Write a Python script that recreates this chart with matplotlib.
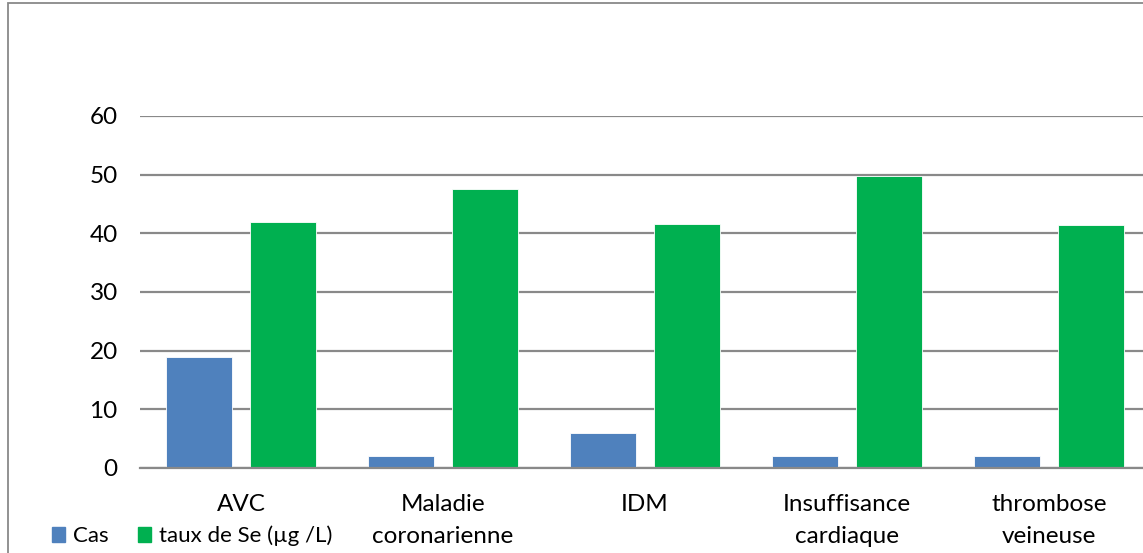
import numpy as np
import matplotlib.pyplot as plt
from matplotlib.patches import Rectangle, Patch

plt.rcParams['font.family'] = ['Lato', 'DejaVu Sans']

categories = ['AVC', 'Maladie\ncoronarienne', 'IDM', 'Insuffisance\ncardiaque',
              'thrombose\nveineuse']
cas = [19, 2, 6, 2, 2]
taux_se = [42, 47.6, 41.6, 49.8, 41.4]
yticks = [0, 10, 20, 30, 40, 50, 60]

blue = '#4F81BD'
green = '#00B050'
grid = '#898989'

W, H = 1143, 553
fig = plt.figure(figsize=(W / 100, H / 100), dpi=100)

# chart frame (runs off the right and bottom edges)
fig.patches.append(Rectangle((8 / W, -0.1), 1.2, 1 - 3 / H + 0.1,
                             transform=fig.transFigure, fill=False,
                             edgecolor=grid, linewidth=1.3))

ax = fig.add_axes([140 / W, 1 - 468 / H, 1010 / W, (468 - 116) / H])
x = np.arange(len(categories))
w = 0.33
off = 0.208
ax.bar(x - off, cas, w, color=blue, edgecolor='white', linewidth=0.6,
       zorder=3)
ax.bar(x + off, taux_se, w, color=green, edgecolor='white', linewidth=0.6,
       zorder=3)

ax.set_xlim(-0.5, len(categories) - 0.5)
ax.set_ylim(0, 60)
ax.set_yticks(yticks)
ax.yaxis.grid(True, color=grid, linewidth=1.6, zorder=0)
ax.set_axisbelow(True)
for s in ['top', 'right', 'left']:
    ax.spines[s].set_visible(False)
ax.spines['bottom'].set_color(grid)
ax.spines['bottom'].set_linewidth(1.6)
ax.spines['bottom'].set_zorder(4)

ax.set_xticks(x)
ax.set_xticklabels(categories, fontsize=17.5, linespacing=1.6,
                   multialignment='center')
ax.tick_params(axis='x', length=0, pad=19)
ax.tick_params(axis='y', length=0, pad=16, labelsize=17.5)

handles = [Patch(color=blue, label='Cas'),
           Patch(color=green, label='taux de Se (µg /L)')]
fig.legend(handles=handles, loc='center', ncol=2, frameon=False,
           fontsize=16, bbox_to_anchor=(192 / W, 1 - 536 / H),
           handlelength=0.6, handleheight=0.6, handletextpad=0.35,
           columnspacing=1.3, borderaxespad=0)

fig.savefig('out.png', dpi=100)
